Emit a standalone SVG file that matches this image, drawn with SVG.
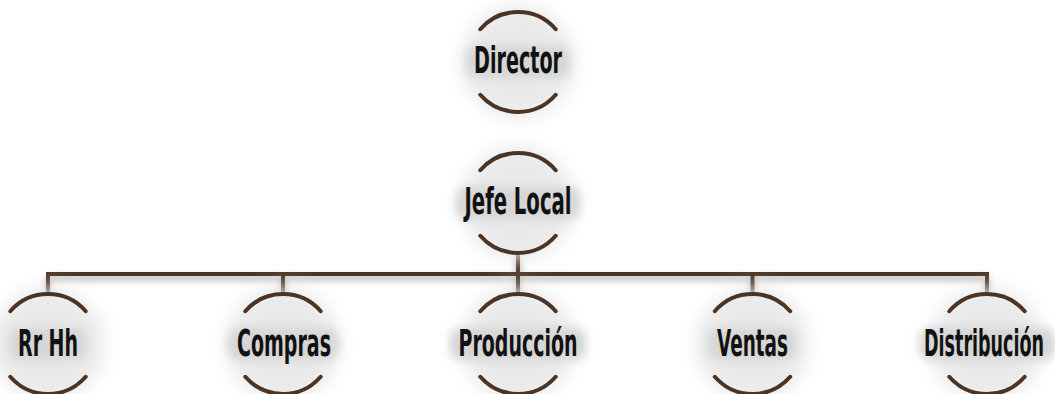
<svg xmlns="http://www.w3.org/2000/svg" width="1055" height="394" viewBox="0 0 1055 394">
  <defs>
    <filter id="glow" x="-60%" y="-60%" width="220%" height="220%">
      <feGaussianBlur stdDeviation="9"/>
    </filter>
    <filter id="soft" x="-30%" y="-60%" width="160%" height="220%">
      <feGaussianBlur stdDeviation="5"/>
    </filter>
    <filter id="lineShadow" x="-5%" y="-200%" width="110%" height="500%">
      <feGaussianBlur stdDeviation="3"/>
    </filter>
    <!-- top and bottom arc pair of a node, centred on the origin -->
    <g id="ring">
      <circle cx="0" cy="0" r="56" fill="#e9e9e9" filter="url(#glow)"/>
      <path class="arc" d="M -37.7 -32.8 A 50 50 0 0 1 37.7 -32.8"/>
      <path class="arc" d="M -37.7 32.8 A 50 50 0 0 0 37.7 32.8"/>
    </g>
  </defs>
  <style>
    .arc { fill: none; stroke: #4b3423; stroke-width: 4; stroke-linecap: round; }
    .band { fill: #d6d6d6; filter: url(#soft); }
    /* labels are drawn at double width, then squeezed horizontally to half */
    .label { font-family: "Liberation Sans Narrow", "DejaVu Sans Condensed", "Liberation Sans", sans-serif; font-weight: bold; font-size: 37px; fill: #111111; text-anchor: middle; }
    .wire { fill: none; stroke: #4b3423; stroke-width: 4; stroke-linecap: square; }
    .wire-shadow { fill: none; stroke: #bdbdbd; stroke-width: 6; filter: url(#lineShadow); }
  </style>

  <rect width="1055" height="394" fill="#ffffff"/>

  <!-- connectors -->
  <g id="connectors">
    <path class="wire-shadow" d="M 518 256 V 278 M 48 278 H 987 M 48 278 V 296 M 283 278 V 296 M 518 278 V 296 M 752.5 278 V 296 M 987 278 V 296"/>
    <path class="wire" d="M 518 253 V 274 M 48 274 H 987 M 48 274 V 293 M 283 274 V 293 M 518 274 V 293 M 752.5 274 V 293 M 987 274 V 293"/>
  </g>

  <!-- nodes -->
  <g id="director" transform="translate(518,62)">
    <use href="#ring"/>
    <rect class="band" x="-52" y="-16" width="104" height="32" rx="10"/>
    <text class="label" transform="scale(0.5,1)" x="0" y="11" textLength="176" lengthAdjust="spacingAndGlyphs">Director</text>
  </g>

  <g id="jefe-local" transform="translate(518,203)">
    <use href="#ring"/>
    <rect class="band" x="-62" y="-16" width="124" height="32" rx="10"/>
    <text class="label" transform="scale(0.5,1)" x="0" y="11" textLength="214" lengthAdjust="spacingAndGlyphs">Jefe  Local</text>
  </g>

  <g id="rr-hh" transform="translate(48,344)">
    <use href="#ring"/>
    <rect class="band" x="-38" y="-16" width="76" height="32" rx="10"/>
    <text class="label" transform="scale(0.5,1)" x="0" y="12" textLength="120" lengthAdjust="spacingAndGlyphs">Rr Hh</text>
  </g>

  <g id="compras" transform="translate(283,344)">
    <use href="#ring"/>
    <rect class="band" x="-55" y="-16" width="110" height="32" rx="10"/>
    <text class="label" transform="scale(0.5,1)" x="2" y="12" textLength="188" lengthAdjust="spacingAndGlyphs">Compras</text>
  </g>

  <g id="produccion" transform="translate(518,344)">
    <use href="#ring"/>
    <rect class="band" x="-68" y="-16" width="136" height="32" rx="10"/>
    <text class="label" transform="scale(0.5,1)" x="0" y="12" textLength="238" lengthAdjust="spacingAndGlyphs">Producción</text>
  </g>

  <g id="ventas" transform="translate(752.5,344)">
    <use href="#ring"/>
    <rect class="band" x="-44" y="-16" width="88" height="32" rx="10"/>
    <text class="label" transform="scale(0.5,1)" x="0" y="12" textLength="142" lengthAdjust="spacingAndGlyphs">Ventas</text>
  </g>

  <g id="distribucion" transform="translate(987,344)">
    <use href="#ring"/>
    <rect class="band" x="-68" y="-16" width="136" height="32" rx="10"/>
    <text class="label" transform="scale(0.5,1)" x="-6" y="12" textLength="240" lengthAdjust="spacingAndGlyphs">Distribución</text>
  </g>
</svg>
